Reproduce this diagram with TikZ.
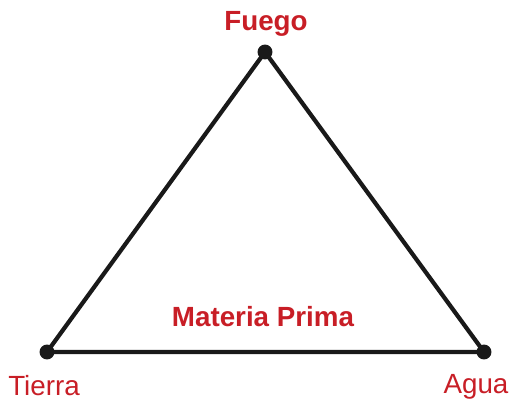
\documentclass[tikz,border=0pt]{standalone}
\usepackage{fontspec}
\setmainfont{Liberation Sans}
\definecolor{labelred}{RGB}{200,30,38}
\tikzset{
  vertexdot/.style={circle, fill=black!90, inner sep=0pt, minimum size=15pt*0.567},
  elemlabel/.style={text=labelred, font=\fontsize{15.8}{18}\selectfont, anchor=base, inner sep=0pt}
}

\begin{document}
\begin{tikzpicture}[x=0.02cm, y=-0.02cm]
                      \useasboundingbox (0, 0) rectangle (509, 401);

                      \node[vertexdot] (fuego) at (265, 52) {};
                      \node[vertexdot] (tierra) at (47, 352) {};
                      \node[vertexdot] (agua) at (484, 352) {};

                      \draw[line width=2.4pt, black!90, line join=round] (fuego.center) -- (agua.center) -- (tierra.center) -- cycle;

                      \node[elemlabel, font=\fontsize{15.8}{18}\selectfont\bfseries] (fuegolabel) at (266, 31) {Fuego};
                      \node[elemlabel] (tierralabel) at (44, 395) {Tierra};
                      \node[elemlabel] (agualabel) at (476, 393) {Agua};
                      \node[elemlabel, font=\fontsize{15.8}{18}\selectfont\bfseries] (materia) at (263, 326) {Materia Prima};
                  \end{tikzpicture}
\end{document}
